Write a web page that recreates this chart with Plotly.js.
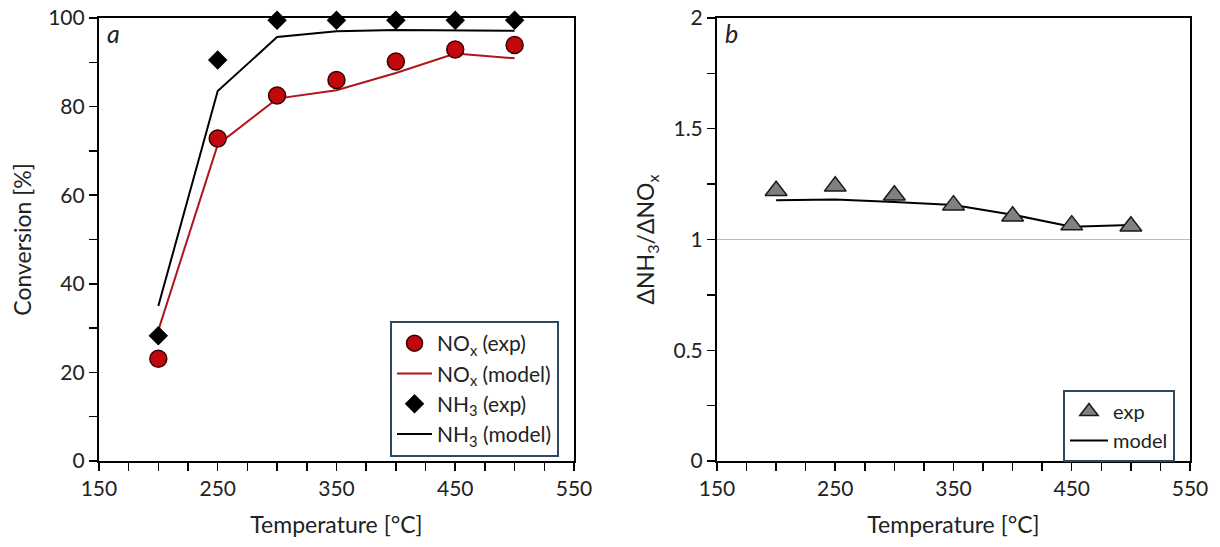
<!DOCTYPE html>
<html><head><meta charset="utf-8">
<script src="https://cdn.plot.ly/plotly-3.0.1.min.js"></script>
<style>body{margin:0;background:#fff}#chart{width:1220px;height:547px}</style>
</head><body><div id="chart"></div>
<script>
const temps = [200, 250, 300, 350, 400, 450, 500];
const noxExp = [23.1, 72.8, 82.5, 86.0, 90.2, 92.9, 93.9];
const noxModel = [29.5, 71.4, 81.8, 83.7, 87.6, 92.0, 90.9];
const nh3Exp = [28.3, 90.5, 99.5, 99.5, 99.5, 99.5, 99.5];
const nh3Model = [35.0, 83.5, 95.7, 97.0, 97.3, 97.2, 97.1];
const ratioExp = [1.22, 1.24, 1.20, 1.155, 1.105, 1.065, 1.06];
const ratioModel = [1.177, 1.181, 1.169, 1.156, 1.112, 1.058, 1.066];

const FONT = 'Lato, Open Sans, sans-serif';
const TXT = '#222';

const traces = [
  {x: temps, y: noxModel, mode: 'lines', name: 'NO<sub>x</sub> (model)', line: {color: '#b0151b', width: 2}, xaxis: 'x', yaxis: 'y', legend: 'legend', legendrank: 2},
  {x: temps, y: nh3Model, mode: 'lines', name: 'NH<sub>3</sub> (model)', line: {color: '#000', width: 2}, xaxis: 'x', yaxis: 'y', legend: 'legend', legendrank: 4},
  {x: temps, y: noxExp, mode: 'markers', name: 'NO<sub>x</sub> (exp)', cliponaxis: false, marker: {symbol: 'circle', size: 17, color: '#c0080d', line: {color: '#3a0000', width: 1.5}}, xaxis: 'x', yaxis: 'y', legend: 'legend', legendrank: 1},
  {x: temps, y: nh3Exp, mode: 'markers', name: 'NH<sub>3</sub> (exp)', cliponaxis: false, marker: {symbol: 'diamond', size: 15, color: '#000'}, xaxis: 'x', yaxis: 'y', legend: 'legend', legendrank: 3},
  {x: temps, y: ratioModel, mode: 'lines', name: 'model', line: {color: '#000', width: 2}, xaxis: 'x2', yaxis: 'y2', legend: 'legend2', legendrank: 2},
  {x: temps, y: ratioExp, mode: 'markers', name: 'exp', cliponaxis: false, marker: {symbol: 'triangle-up', size: 19, color: '#808080', line: {color: '#1a1a1a', width: 1.5}}, xaxis: 'x2', yaxis: 'y2', legend: 'legend2', legendrank: 1}
];

const TF = {family: FONT, size: 23, color: TXT};
const minorX = {dtick: 25, ticks: 'outside', ticklen: 8, tickcolor: '#000', tickwidth: 1.5};
const axBase = {
  showline: true, linecolor: '#000', linewidth: 2, mirror: true,
  ticks: 'outside', ticklen: 8, tickwidth: 1.5, tickcolor: '#000',
  showgrid: false, zeroline: false,
  tickfont: {family: FONT, size: 21, color: TXT}
};

const layout = {
  width: 1220, height: 547,
  margin: {l: 0, r: 0, t: 0, b: 0},
  paper_bgcolor: '#fff', plot_bgcolor: '#fff',
  font: {family: FONT, color: TXT},
  xaxis: Object.assign({}, axBase, {domain: [0.0811, 0.4705], range: [150, 550], dtick: 100, tick0: 150,
    minor: minorX, title: {text: 'Temperature [°C]', font: TF, standoff: 18}, anchor: 'y'}),
  yaxis: Object.assign({}, axBase, {domain: [0.1572, 0.9671], range: [0, 100], dtick: 20,
    minor: {dtick: 10, ticks: 'outside', ticklen: 8, tickcolor: '#000', tickwidth: 1.5},
    title: {text: 'Conversion [%]', font: TF, standoff: 10}, anchor: 'x'}),
  xaxis2: Object.assign({}, axBase, {domain: [0.5877, 0.9754], range: [150, 550], dtick: 100, tick0: 150,
    minor: minorX, title: {text: 'Temperature [°C]', font: TF, standoff: 18}, anchor: 'y2'}),
  yaxis2: Object.assign({}, axBase, {domain: [0.1572, 0.9671], range: [0, 2], tickvals: [0, 0.5, 1, 1.5, 2], ticktext: ['0', '0.5', '1', '1.5', '2'],
    minor: {dtick: 0.25, ticks: 'outside', ticklen: 8, tickcolor: '#000', tickwidth: 1.5},
    title: {text: 'ΔNH<sub>3</sub>/ΔNO<sub>x</sub>', font: TF, standoff: 12}, anchor: 'x2'}),
  legend: {x: 0.3197, y: 0.4132, xanchor: 'left', yanchor: 'top', bordercolor: '#2e4a62', borderwidth: 2, bgcolor: '#fff',
    font: {family: FONT, size: 21, color: TXT}, traceorder: 'normal', tracegroupgap: 0, itemwidth: 35},
  legend2: {x: 0.8713, y: 0.2870, xanchor: 'left', yanchor: 'top', bordercolor: '#2e4a62', borderwidth: 2, bgcolor: '#fff',
    font: {family: FONT, size: 20, color: TXT}, traceorder: 'normal', tracegroupgap: 0, itemwidth: 38},
  shapes: [
    {type: 'line', xref: 'x2 domain', yref: 'y2', x0: 0, x1: 1, y0: 1, y1: 1, line: {color: '#bdbdbd', width: 1}, layer: 'below'}
  ],
  annotations: [
    {text: '<i>a</i>', xref: 'x domain', yref: 'y domain', x: 0.012, y: 1.005, xanchor: 'left', yanchor: 'top', showarrow: false, font: {family: FONT, size: 25, color: TXT}},
    {text: '<i>b</i>', xref: 'x2 domain', yref: 'y2 domain', x: 0.012, y: 1.005, xanchor: 'left', yanchor: 'top', showarrow: false, font: {family: FONT, size: 25, color: TXT}}
  ],
  showlegend: true
};

Plotly.newPlot('chart', traces, layout, {displayModeBar: false, staticPlot: true});
</script></body></html>
